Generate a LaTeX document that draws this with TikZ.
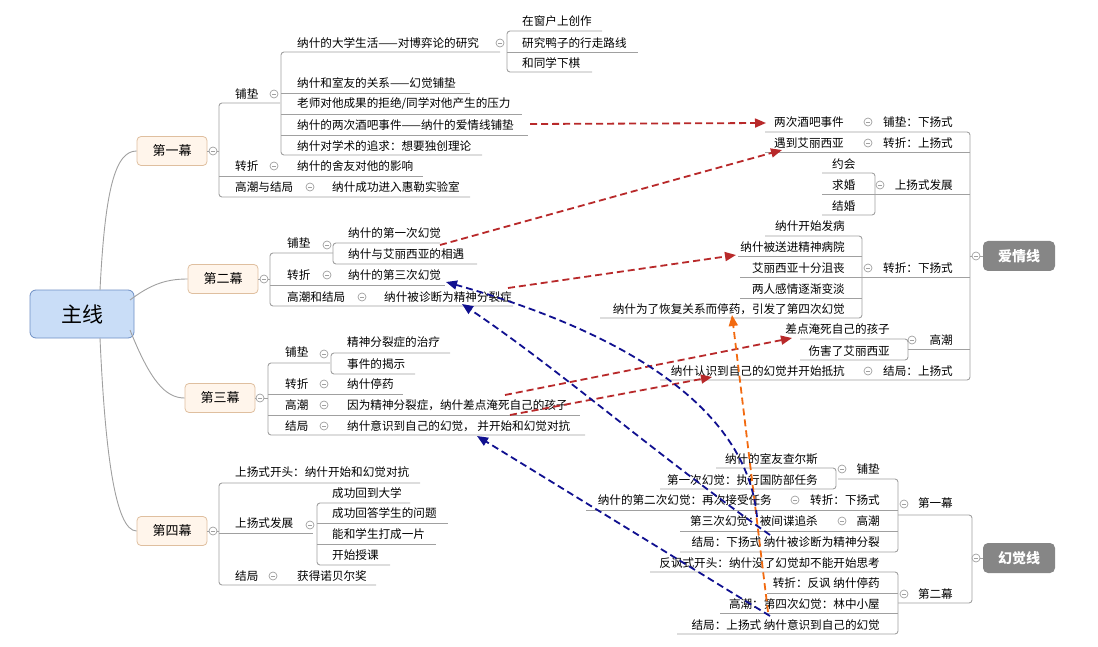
\documentclass[tikz,border=0pt]{standalone}
\usepackage{fontspec}
\setmainfont{Noto Sans CJK SC}
\usetikzlibrary{arrows.meta}
\definecolor{lnc}{HTML}{A0A0A0}
\definecolor{redc}{HTML}{B8292A}
\definecolor{bluec}{HTML}{101090}
\definecolor{orc}{HTML}{F26A10}
\definecolor{mainf}{HTML}{C9DDF7}
\definecolor{maind}{HTML}{6E8FC4}
\tikzset{
 t/.style={inner sep=0pt,font=\fontsize{11.6}{12}\selectfont},
 tl/.style={t,anchor=west},
 tr/.style={t,anchor=east},
 ln/.style={draw=lnc,line width=0.9pt,rounded corners=3pt},
 cc/.style={circle,draw=lnc,fill=white,minimum size=8pt,inner sep=0pt,line width=0.7pt,
   path picture={\draw[lnc,line width=0.7pt] ([xshift=-2pt]path picture bounding box.center)--([xshift=2pt]path picture bounding box.center);}},
 act/.style={draw=brown!50,fill=orange!8,rounded corners=4pt,line width=0.8pt,minimum width=70pt,minimum height=29pt,font=\fontsize{13}{14}\selectfont},
 side/.style={fill=gray!95,text=white,rounded corners=5pt,minimum width=72pt,minimum height=30pt,font=\fontsize{14}{15}\selectfont\bfseries},
 rarr/.style={draw=redc,line width=1.8pt,dash pattern=on 7pt off 4pt,-{Triangle[length=11pt,width=9pt]}},
 barr/.style={draw=bluec,line width=1.8pt,dash pattern=on 7pt off 4pt,-{Triangle[length=11pt,width=9pt]}},
 oarr/.style={draw=orc,line width=1.8pt,dash pattern=on 7pt off 4pt,-{Triangle[length=11pt,width=9pt]}},
}
\newcommand{\cir}[2]{\node[cc] at (#1,#2) {};}
\begin{document}
\begin{tikzpicture}[x=1pt,y=-1pt]
\useasboundingbox (0,0) rectangle (1098,647);
% main
\node[draw=maind,fill=mainf,rounded corners=6pt,line width=0.8pt,minimum width=104pt,minimum height=48pt,font=\fontsize{21}{22}\selectfont] (main) at (82,314) {主线};
\node[act] (A1) at (172,151) {第一幕};
\node[act] (A2) at (223,279) {第二幕};
\node[act] (A3) at (220,398) {第三幕};
\node[act] (A4) at (172,531) {第四幕};
\draw[ln] (100,290) .. controls (105,190) and (115,151) .. (A1.west);
\draw[ln] (130,300) .. controls (150,285) and (165,279) .. (A2.west);
\draw[ln] (130,330) .. controls (150,380) and (165,398) .. (A3.west);
\draw[ln] (100,338) .. controls (105,450) and (115,531) .. (A4.west);
% ===== Act 1
\draw[ln] (A1.east) -- (219,151);
\draw[ln] (280,103) -- (219,103) -- (219,197) -- (470,197);
\draw[ln] (219,176) -- (423,176);
\cir{213}{151}
\node[tl] (a1p) at (235,94) {铺垫};
\node[tl] (a1z) at (235,166) {转折};
\node[tl] (a1g) at (235,187) {高潮与结局};
\cir{274}{94}\cir{274}{166}\cir{310}{187}
\node[tl] (a1z1) at (297,166) {纳什的舍友对他的影响};
\node[tl] (a1g1) at (332,187) {纳什成功进入惠勒实验室};
\draw[ln] (500,52) -- (281,52) -- (281,155) -- (482,155);
\draw[ln] (281,93) -- (470,93);
\draw[ln] (281,114) -- (522,114);
\draw[ln] (281,135) -- (528,135);
\node[tl] (a1p1) at (297,43) {纳什的大学生活——对博弈论的研究};
\node[tl] (a1p2) at (297,83) {纳什和室友的关系——幻觉铺垫};
\node[tl] (a1p3) at (297,104) {老师对他成果的拒绝/同学对他产生的压力};
\node[tl] (a1p4) at (297,125) {纳什的两次酒吧事件——纳什的爱情线铺垫};
\node[tl] (a1p5) at (297,146) {纳什对学术的追求：想要独创理论};
\cir{500}{43}
\draw[ln] (602,31) -- (507,31) -- (507,72) -- (592,72);
\draw[ln] (507,52) -- (638,52);
\node[tl] (s1) at (522,21) {在窗户上创作};
\node[tl] (s2) at (522,43) {研究鸭子的行走路线};
\node[tl] (s3) at (522,63) {和同学下棋};
% ===== Act 2
\draw[ln] (A2.east) -- (270,279);
\draw[ln] (333,253) -- (270,253) -- (270,306) -- (513,306);
\draw[ln] (270,285) -- (445,285);
\cir{264}{279}
\node[tl] (a2p) at (287,243) {铺垫};
\node[tl] (a2z) at (287,275) {转折};
\node[tl] (a2g) at (287,297) {高潮和结局};
\cir{327}{245}\cir{327}{275}\cir{362}{297}
\draw[ln] (440,243) -- (333,243) -- (333,264) -- (477,264);
\node[tl] (a2p1) at (348,233) {纳什的第一次幻觉};
\node[tl] (a2p2) at (348,254) {纳什与艾丽西亚的相遇};
\node[tl] (a2z1) at (348,275) {纳什的第三次幻觉};
\node[tl] (a2g1) at (384,297) {纳什被诊断为精神分裂症};
% ===== Act 3
\draw[ln] (A3.east) -- (268,398);
\draw[ln] (330,363) -- (268,363) -- (268,435) -- (585,435);
\draw[ln] (268,394) -- (403,394);
\draw[ln] (268,415) -- (580,415);
\cir{260}{398}
\node[tl] (a3p) at (285,352) {铺垫};
\node[tl] (a3z) at (285,384) {转折};
\node[tl] (a3g) at (285,405) {高潮};
\node[tl] (a3j) at (285,426) {结局};
\cir{324}{354}\cir{324}{384}\cir{324}{405}\cir{324}{426}
\draw[ln] (450,353) -- (331,353) -- (331,374) -- (415,374);
\node[tl] (a3p1) at (347,342) {精神分裂症的治疗};
\node[tl] (a3p2) at (347,364) {事件的揭示};
\node[tl] (a3z1) at (347,384) {纳什停药};
\node[tl] (a3g1) at (347,405) {因为精神分裂症，纳什差点淹死自己的孩子};
\node[tl] (a3j1) at (347,426) {纳什意识到自己的幻觉， 并开始和幻觉对抗};
% ===== Act 4
\draw[ln] (A4.east) -- (219,531);
\draw[ln] (420,483) -- (219,483) -- (219,585) -- (376,585);
\draw[ln] (219,533) -- (313,533);
\cir{213}{531}
\node[tl] (a4o) at (235,472) {上扬式开头：纳什开始和幻觉对抗};
\node[tl] (a4f) at (235,523) {上扬式发展};
\node[tl] (a4j) at (235,576) {结局};
\cir{310}{525}\cir{273}{576}
\node[tl] (a4j1) at (297,576) {获得诺贝尔奖};
\draw[ln] (410,503) -- (317,503) -- (317,565) -- (390,565);
\draw[ln] (317,523) -- (448,523);
\draw[ln] (317,544) -- (436,544);
\node[tl] (a4f1) at (332,493) {成功回到大学};
\node[tl] (a4f2) at (332,513) {成功回答学生的问题};
\node[tl] (a4f3) at (332,534) {能和学生打成一片};
\node[tl] (a4f4) at (332,555) {开始授课};
% ===== Love line
\node[side] (L) at (1019,256) {爱情线};
\draw[ln] (765,132) -- (970,132) -- (970,380) -- (660,380);
\draw[ln] (765,152) -- (970,152);
\draw[ln] (875,194) -- (970,194);
\draw[ln] (862,277) -- (970,277);
\draw[ln] (908,349) -- (970,349);
\draw[ln] (970,256) -- (L.west);
\cir{976}{256}
\node[tr] (lp) at (953,122) {铺垫：下扬式};
\node[tr] (lz) at (953,143) {转折：上扬式};
\node[tr] (lf) at (953,185) {上扬式发展};
\node[tr] (lx) at (953,268) {转折：下扬式};
\node[tr] (lg) at (953,340) {高潮};
\node[tr] (lj) at (953,371) {结局：上扬式};
\cir{868}{122}\cir{868}{143}\cir{880}{185}\cir{868}{268}\cir{912}{340}\cir{868}{371}
\node[tl] (lp1) at (774,122) {两次酒吧事件};
\node[tl] (lz1) at (774,143) {遇到艾丽西亚};
\node[tr] (lj1) at (845,371) {纳什认识到自己的幻觉并开始抵抗};
\draw[ln] (822,173) -- (875,173) -- (875,215) -- (822,215);
\draw[ln] (822,194) -- (875,194);
\node[tl] (lf1) at (832,164) {约会};
\node[tl] (lf2) at (832,185) {求婚};
\node[tl] (lf3) at (832,206) {结婚};
\draw[ln] (765,236) -- (862,236) -- (862,318) -- (600,318);
\draw[ln] (738,256) -- (862,256);
\draw[ln] (740,277) -- (862,277);
\draw[ln] (740,298) -- (862,298);
\node[tr] (lx1) at (845,226) {纳什开始发病};
\node[tr] (lx2) at (845,247) {纳什被送进精神病院};
\node[tr] (lx3) at (845,268) {艾丽西亚十分沮丧};
\node[tr] (lx4) at (845,289) {两人感情逐渐变淡};
\node[tr] (lx5) at (845,309) {纳什为了恢复关系而停药，引发了第四次幻觉};
\draw[ln] (800,339) -- (908,339) -- (908,360) -- (800,360);
\node[tr] (lg1) at (890,329) {差点淹死自己的孩子};
\node[tr] (lg2) at (890,351) {伤害了艾丽西亚};
% ===== Hallucination line
\node[side] (H) at (1019,558) {幻觉线};
\draw[ln] (898,515) -- (972,515) -- (972,603) -- (898,603);
\draw[ln] (972,558) -- (H.west);
\cir{976}{558}
\node[tr] (h1) at (953,503) {第一幕};
\node[tr] (h2) at (953,594) {第二幕};
\cir{904}{504}\cir{904}{594}
\draw[ln] (838,479) -- (898,479) -- (898,552) -- (680,552);
\draw[ln] (586,510) -- (898,510);
\draw[ln] (680,531) -- (898,531);
\node[tr] (h1p) at (880,469) {铺垫};
\node[tr] (h1z) at (880,500) {转折：下扬式};
\node[tr] (h1g) at (880,521) {高潮};
\node[tr] (h1j) at (880,542) {结局：下扬式  纳什被诊断为精神分裂};
\cir{842}{469}\cir{795}{500}\cir{842}{521}
\node[tr] (h1z1) at (772,500) {纳什的第二次幻觉：再次接受任务};
\node[tr] (h1g1) at (818,521) {第三次幻觉：被间谍追杀};
\draw[ln] (716,468) -- (836,468) -- (836,489) -- (660,489);
\node[tr] (h1p1) at (818,459) {纳什的室友查尔斯};
\node[tr] (h1p2) at (818,480) {第一次幻觉：执行国防部任务};
\draw[ln] (650,572) -- (898,572) -- (898,634) -- (677,634);
\draw[ln] (767,593) -- (898,593);
\draw[ln] (720,613) -- (898,613);
\node[tr] (h2a) at (880,563) {反讽式开头：纳什没了幻觉却不能开始思考};
\node[tr] (h2b) at (880,583) {转折：反讽  纳什停药};
\node[tr] (h2c) at (880,604) {高潮：第四次幻觉：林中小屋};
\node[tr] (h2d) at (880,625) {结局：上扬式  纳什意识到自己的幻觉};
% ===== cross links
\coordinate (r1s) at (530,124); \coordinate (r1e) at (766,123);
\coordinate (r2s) at (440,245); \coordinate (r2e) at (782,150);
\coordinate (r3s) at (508,288); \coordinate (r3e) at (736,255);
\coordinate (r4s) at (505,395); \coordinate (r4e) at (792,338);
\coordinate (r5s) at (510,415); \coordinate (r5e) at (712,377);
\coordinate (os) at (768,612); \coordinate (oe) at (732,315);
\coordinate (b1s) at (757,517); \coordinate (b1e) at (446,282);
\coordinate (b2s) at (770,535); \coordinate (b2e) at (462,304);
\coordinate (b3s) at (770,616); \coordinate (b3e) at (477,436);
\draw[rarr] (r1s) -- (r1e);
\draw[rarr] (r2s) -- (r2e);
\draw[rarr] (r3s) -- (r3e);
\draw[rarr] (r4s) -- (r4e);
\draw[rarr] (r5s) -- (r5e);
\draw[oarr] (os) -- (oe);
\draw[barr] (b1s) .. controls (748,420) and (650,340) .. (b1e);
\draw[barr] (b2s) .. controls (650,450) and (560,370) .. (b2e);
\draw[barr] (b3s) -- (b3e);
\end{tikzpicture}
\end{document}
